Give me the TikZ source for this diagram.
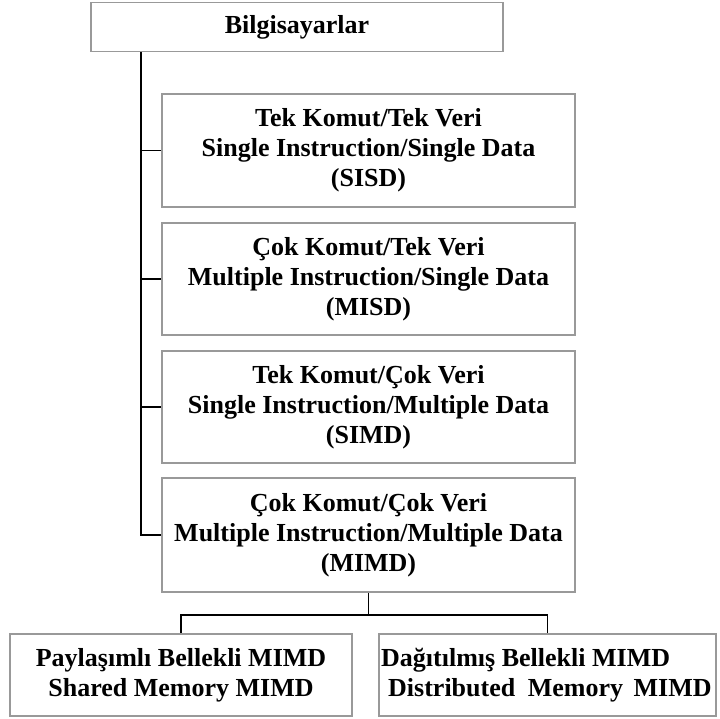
\documentclass[tikz,border=0pt]{standalone}
\usepackage{fontspec}
\setmainfont{Liberation Serif}
\begin{document}
\begin{tikzpicture}[x=1pt,y=-1pt,
  txt/.style={font=\fontsize{26}{30}\selectfont\bfseries},
  box/.style={txt, draw=boxgray, line width=1.8pt, inner sep=0pt, align=center},
  conn/.style={draw=black, line width=1.6pt}]
\definecolor{boxgray}{HTML}{999999}
\useasboundingbox (0,0) rectangle (720,719);
% root
\node[box, minimum width=412pt, minimum height=49pt] (top) at (297,27) {Bilgisayarlar};
% Flynn classes
\node[box, minimum width=413pt, minimum height=113pt] (b1) at (368.5,150.5)
  {Tek Komut/Tek Veri\\Single Instruction/Single Data\\(SISD)};
\node[box, minimum width=413pt, minimum height=112pt] (b2) at (368.5,279)
  {Çok Komut/Tek Veri\\Multiple Instruction/Single Data\\(MISD)};
\node[box, minimum width=413pt, minimum height=112pt] (b3) at (368.5,407)
  {Tek Komut/Çok Veri\\Single Instruction/Multiple Data\\(SIMD)};
\node[box, minimum width=413pt, minimum height=114pt] (b4) at (368.5,535)
  {Çok Komut/Çok Veri\\Multiple Instruction/Multiple Data\\(MIMD)};
% MIMD subclasses
\node[box, minimum width=342pt, minimum height=82pt] (L) at (181,675)
  {Paylaşımlı Bellekli MIMD\\Shared Memory MIMD};
\node[box, minimum width=337pt, minimum height=82pt] (R) at (547.5,675) {};
\node[txt, anchor=west, inner sep=0pt, align=left] (Rt) at (381,675)
  {Dağıtılmış Bellekli MIMD\\\hspace*{7pt}Distributed\hspace{6pt} Memory\hspace{4pt} MIMD};
% trunk and branches
\coordinate (t1) at ([xshift=-20pt]b1.west);
\coordinate (t4) at ([xshift=-20pt]b4.west);
\draw[conn] (t1 |- top.south) -- (t4) -- (b4.west);
\draw[conn] (t1) -- (b1.west);
\draw[conn] (t1 |- b2.west) -- (b2.west);
\draw[conn] (t1 |- b3.west) -- (b3.west);
% split below MIMD
\draw[conn] (b4.south) -- ++(0,22) coordinate (j);
\draw[conn] (L.north) |- (j) -| (R.north);
\end{tikzpicture}
\end{document}
